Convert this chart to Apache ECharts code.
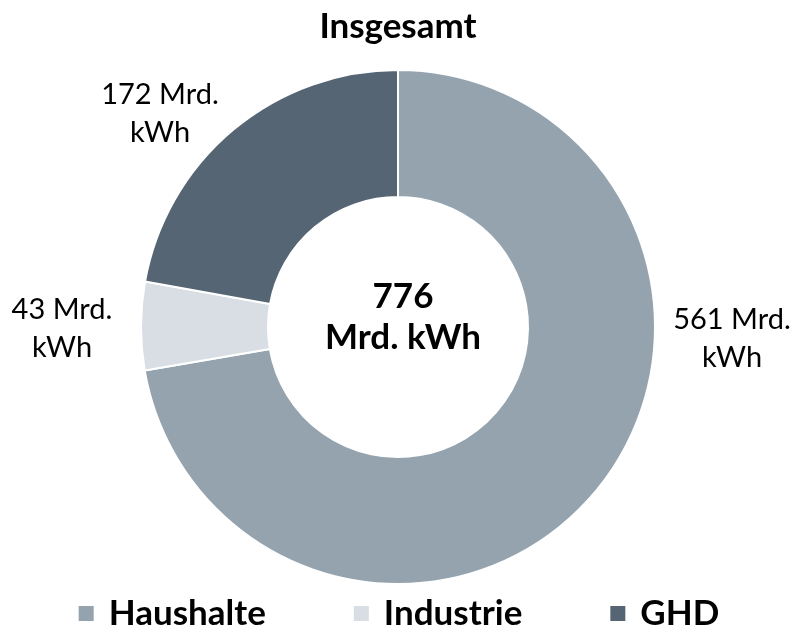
<!DOCTYPE html>
<html>
<head>
<meta charset="utf-8">
<script src="https://cdn.jsdelivr.net/npm/echarts@6/dist/echarts.min.js"></script>
<style>
  html, body { margin: 0; padding: 0; background: #fff; }
  #chart { width: 796px; height: 634px; }
</style>
</head>
<body>
<div id="chart"></div>
<script>
// Stromverbrauch nach Sektor (Mrd. kWh)
const categories = ['Haushalte', 'Industrie', 'GHD'];
const values = [561, 43, 172];
const totalText = '776';
const unit = 'Mrd. kWh';

const COLORS = ['#95A3AE', '#D8DEE3', '#566573'];
const FONT = 'Lato, "Open Sans", sans-serif';

// Label anchor spots (text block centres), by slice
const labelSpots = [[732, 339], [62, 329], [160, 114]];

const chart = echarts.init(document.getElementById('chart'));

const option = {
    animation: false,
    title: [
        {
            text: 'Insgesamt',
            left: 'center',
            top: 4,
            textStyle: { fontFamily: FONT, fontSize: 35, fontWeight: 'bold', color: '#000' }
        },
        {
            text: totalText + '\n' + unit,
            left: 398,
            top: 271,
            textAlign: 'center',
            textStyle: { fontFamily: FONT, fontSize: 35, fontWeight: 'bold', color: '#000', lineHeight: 41 }
        }
    ],
    legend: {
        bottom: -2,
        left: 'center',
        itemWidth: 17,
        itemHeight: 17,
        itemGap: 86,
        icon: 'rect',
        data: categories,
        textStyle: { fontFamily: FONT, fontSize: 35, fontWeight: 'bold', color: '#000', padding: [0, 0, 0, 9] }
    },
    series: [{
        type: 'pie',
        center: [398, 327],
        radius: [130, 257],
        startAngle: 90,
        clockwise: true,
        avoidLabelOverlap: false,
        itemStyle: { borderColor: '#fff', borderWidth: 2 },
        label: {
            show: true,
            position: 'outside',
            fontFamily: FONT,
            fontSize: 29,
            lineHeight: 38,
            color: '#000',
            align: 'center',
            verticalAlign: 'middle',
            formatter: p => p.value + ' Mrd.\nkWh'
        },
        labelLine: { show: false },
        labelLayout: p => ({
            x: labelSpots[p.dataIndex][0],
            y: labelSpots[p.dataIndex][1],
            align: 'center',
            verticalAlign: 'middle'
        }),
        emphasis: { disabled: true },
        data: categories.map((name, i) => ({
            name: name,
            value: values[i],
            itemStyle: { color: COLORS[i] }
        }))
    }]
};

chart.setOption(option);
</script>
</body>
</html>
